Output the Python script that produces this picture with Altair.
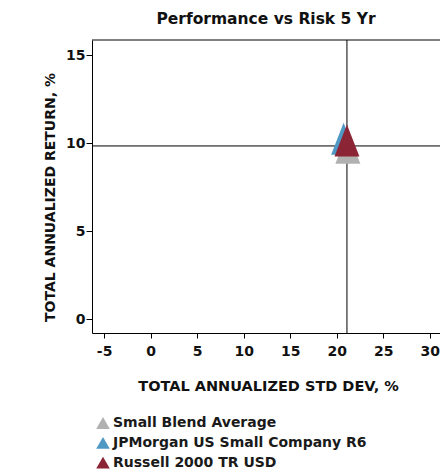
import altair as alt
import pandas as pd

# Series shown in the risk/return scatter
series = ["Small Blend Average", "JPMorgan US Small Company R6", "Russell 2000 TR USD"]
std_dev = [21.2, 20.74, 21.1]      # total annualized std dev, %
returns = [9.44, 9.96, 9.85]       # total annualized return, %
colors = ["#b1b1b1", "#4f98c4", "#8b2535"]

# Benchmark crosshair (Russell 2000)
bench_x = [21.1]
bench_y = [9.85]

x_ticks = [-5, 0, 5, 10, 15, 20, 25, 30]
y_ticks = [0, 5, 10, 15]
x_domain = [-6.3, 31.1]
y_domain = [-0.78, 15.87]

FONT = "DejaVu Sans"

df = pd.DataFrame({"series": series, "std": std_dev, "ret": returns})
bench = pd.DataFrame({"bx": bench_x, "by": bench_y})
top = pd.DataFrame({"ty": [y_domain[1]]})

x_scale = alt.Scale(domain=x_domain, nice=False, zero=False)
y_scale = alt.Scale(domain=y_domain, nice=False, zero=False)

hyphen = "replace(datum.label, '\u2212', '-')"

x_axis = alt.Axis(
    title="TOTAL ANNUALIZED STD DEV, %",
    values=x_ticks, grid=False, tickSize=5, labelExpr=hyphen,
    labelPadding=6, titleX=176, titleY=57, titleFontSize=14.5,
    titleBaseline="alphabetic", titleAlign="center",
)
y_axis = alt.Axis(
    title="TOTAL ANNUALIZED RETURN, %",
    values=y_ticks, grid=False, tickSize=6,
    labelPadding=1, titleX=-38, titleY=157,
    titleBaseline="alphabetic", titleAlign="center",
)

# tall triangle, anchored at its centroid
tri = "M0,-1.333L-0.78,0.667L0.78,0.667Z"

points = alt.Chart(df).mark_point(
    shape=tri, filled=True, opacity=1, size=1024
).encode(
    x=alt.X("std:Q", scale=x_scale, axis=x_axis),
    y=alt.Y("ret:Q", scale=y_scale, axis=y_axis),
    color=alt.Color(
        "series:N",
        scale=alt.Scale(domain=series, range=colors),
        legend=alt.Legend(
            title=None, orient="none", legendX=4, legendY=376,
            symbolType="triangle-up", symbolSize=185, symbolStrokeWidth=0,
            labelFontSize=14, labelFont=FONT, labelFontWeight="bold",
            labelColor="#1a1a1a", rowPadding=5.8, padding=0, labelOffset=3,
            labelLimit=400,
        ),
    ),
    order=alt.Order("o:Q"),
).transform_calculate(o="indexof(" + str(series) + ", datum.series)")

vline = alt.Chart(bench).mark_rule(color="black", strokeWidth=1).encode(x="bx:Q")
hline = alt.Chart(bench).mark_rule(color="black", strokeWidth=1).encode(y="by:Q")
topline = alt.Chart(top).mark_rule(color="black", strokeWidth=1).encode(y="ty:Q")

chart = alt.layer(vline, hline, topline, points).properties(
    width=348, height=293,
    title=alt.TitleParams(
        "Performance vs Risk 5 Yr", font=FONT, fontSize=15.5, fontWeight="bold",
        color="#111111", anchor="middle", offset=0, baseline="alphabetic",
    ),
    autosize=alt.AutoSizeParams(type="none"),
    padding={"left": 92, "top": 40, "right": 0, "bottom": 140},
).configure_view(
    stroke=None
).configure_axis(
    domainColor="black", tickColor="black", domainWidth=1, tickWidth=1,
    labelFont=FONT, labelFontSize=14, labelFontWeight="bold", labelColor="#111111",
    titleFont=FONT, titleFontSize=14, titleFontWeight="bold", titleColor="#111111",
)

chart.save("out.html", embed_options={"renderer": "svg", "actions": False})
